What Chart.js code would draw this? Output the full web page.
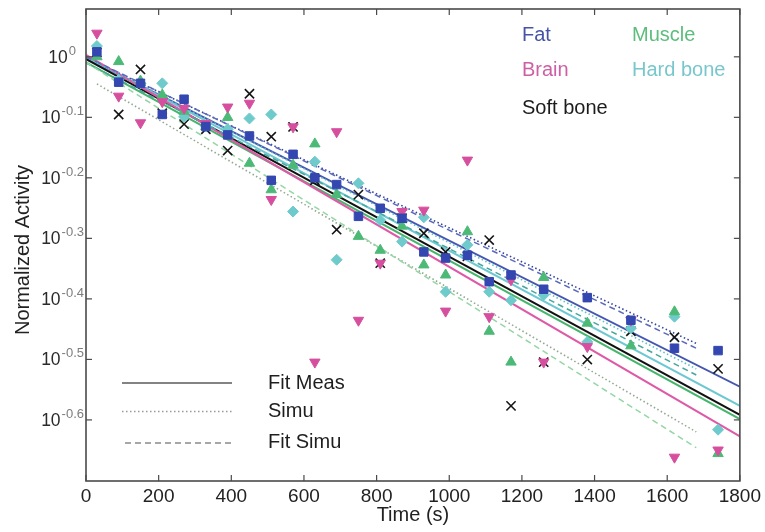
<!DOCTYPE html>
<html>
<head>
<meta charset="utf-8">
<script src="https://cdn.jsdelivr.net/npm/chart.js@4.4.1/dist/chart.umd.min.js"></script>
<style>
  html, body { margin: 0; padding: 0; background: #ffffff; }
  #wrap { width: 765px; height: 532px; }
</style>
</head>
<body>
<div id="wrap"><canvas id="c" width="765" height="532"></canvas></div>
<script>
// ---------------- data ----------------
const times = [30, 90, 150, 210, 270, 330, 390, 450, 510, 570, 630, 690, 750, 810, 870, 930, 990, 1050, 1110, 1170, 1260, 1380, 1500, 1620, 1740];

const fatMeas      = [1.019, 0.908, 0.904, 0.803, 0.851, 0.767, 0.743, 0.740, 0.625, 0.690, 0.631, 0.615, 0.545, 0.562, 0.541, 0.476, 0.465, 0.470, 0.425, 0.436, 0.413, 0.400, 0.367, 0.330, 0.327];
const brainMeas    = [1.094, 0.861, 0.778, 0.843, 0.822, 0.776, 0.826, 0.838, 0.581, 0.766, 0.313, 0.752, 0.367, 0.456, 0.555, 0.558, 0.380, 0.675, 0.372, 0.428, 0.313, 0.332, 0.367, 0.218, 0.224];
const muscleMeas   = [1.000, 0.982, 0.912, 0.865, 0.813, 0.767, 0.794, 0.667, 0.603, 0.662, 0.718, 0.592, 0.505, 0.479, 0.525, 0.453, 0.436, 0.514, 0.352, 0.313, 0.432, 0.363, 0.333, 0.379, 0.221];
const hardBoneMeas = [1.042, 0.916, 0.904, 0.904, 0.796, 0.767, 0.759, 0.791, 0.803, 0.555, 0.671, 0.462, 0.618, 0.537, 0.495, 0.543, 0.409, 0.489, 0.409, 0.396, 0.404, 0.338, 0.356, 0.372, 0.242];
const softBoneMeas = [1.016, 0.803, 0.953, 0.807, 0.774, 0.759, 0.700, 0.869, 0.738, 0.766, 0.625, 0.518, 0.592, 0.456, 0.541, 0.511, 0.476, 0.468, 0.498, 0.265, 0.313, 0.316, 0.352, 0.344, 0.305];

// Fit of measurements (solid), endpoints at t = 0 and t = 1800
const fitTimes       = [0, 1800];
const fatFit         = [0.995, 0.285];
const hardBoneFit    = [1.000, 0.265];
const softBoneFit    = [0.991, 0.256];
const muscleFit      = [0.979, 0.252];
const brainFit       = [1.007, 0.236];

// Simulation (dotted) and fit of simulation (dashed)
const simuTimes      = [30, 1680];
const fitSimuTimes   = [0, 1680];
const fatSimu        = [0.977, 0.336];
const fatFitSimu     = [1.000, 0.330];
const hardBoneSimu   = [0.977, 0.305];
const hardBoneFitSimu= [0.977, 0.298];
const muscleSimu     = [0.902, 0.240];
const muscleFitSimu  = [0.979, 0.226];

// axes
const xTicks = [0, 200, 400, 600, 800, 1000, 1200, 1400, 1600, 1800];
const xTickLabels = ['0', '200', '400', '600', '800', '1000', '1200', '1400', '1600', '1800'];
const yTickValues = [1, 0.7943, 0.6310, 0.5012, 0.3981, 0.3162, 0.2512];
const yTickExponents = ['0', '-0.1', '-0.2', '-0.3', '-0.4', '-0.5', '-0.6'];
const yMin = 0.1991, yMax = 1.1995;

const legendTissues = ['Fat', 'Muscle', 'Brain', 'Hard bone', 'Soft bone'];
const legendLines = ['Fit Meas', 'Simu', 'Fit Simu'];

// ---------------- styles ----------------
const FONT = "'Liberation Sans', Arial, Helvetica, sans-serif";
const C = { fat: '#3447b0', brain: '#d64f9f', muscle: '#4cba76', hard: '#6fcbcb', soft: '#151515' };

function pts(xs, ys) {
  const out = [];
  xs.forEach((x, i) => { if (ys[i] != null) out.push({ x: x, y: ys[i] }); });
  return out;
}
function lineDs(xs, ys, color, width, dash) {
  return { data: pts(xs, ys), showLine: true, pointRadius: 0, borderColor: color, borderWidth: width,
           borderDash: dash, backgroundColor: color, order: 2, fill: false, tension: 0 };
}
function markerDs(ys, color, style, radius, rotation, border) {
  return { data: pts(times, ys), showLine: false, pointStyle: style, pointRadius: radius, pointRotation: rotation,
           backgroundColor: color, borderColor: color, borderWidth: border, order: 1 };
}

const DOT = [1.5, 2.5], DASH = [6, 4];
const datasets = [
  lineDs(fitSimuTimes, muscleFitSimu, '#94d6a4', 1.5, DASH),
  lineDs(simuTimes, muscleSimu, '#93a893', 1.6, DOT),
  lineDs(fitSimuTimes, hardBoneFitSimu, '#46a89c', 1.5, DASH),
  lineDs(simuTimes, hardBoneSimu, '#5cbfc6', 1.6, DOT),
  lineDs(fitSimuTimes, fatFitSimu, '#5b69bb', 1.5, DASH),
  lineDs(simuTimes, fatSimu, '#34449f', 1.6, DOT),
  lineDs(fitTimes, brainFit, '#de5aa6', 2, []),
  lineDs(fitTimes, muscleFit, '#45b56c', 2, []),
  lineDs(fitTimes, softBoneFit, '#111111', 2, []),
  lineDs(fitTimes, hardBoneFit, '#6cc8d2', 2, []),
  lineDs(fitTimes, fatFit, '#4555b0', 2, []),
  markerDs(fatMeas, C.fat, 'rect', 6, 0, 1),
  markerDs(brainMeas, C.brain, 'triangle', 6, 180, 1),
  markerDs(muscleMeas, C.muscle, 'triangle', 6, 0, 1),
  markerDs(hardBoneMeas, C.hard, 'rectRot', 5.5, 0, 1),
  markerDs(softBoneMeas, C.soft, 'crossRot', 6.5, 0, 1.6)
];

// ---------------- overlay plugin: frame, inner ticks, y labels, titles, legends ----------------
const overlay = {
  id: 'overlay',
  afterDraw(chart) {
    const ctx = chart.ctx, a = chart.chartArea, xs = chart.scales.x, ys = chart.scales.y;
    ctx.save();
    function seg(x1, y1, x2, y2) { ctx.beginPath(); ctx.moveTo(x1, y1); ctx.lineTo(x2, y2); ctx.stroke(); }
    // frame
    ctx.strokeStyle = '#4a4a4a'; ctx.lineWidth = 1.6; ctx.setLineDash([]);
    ctx.strokeRect(a.left, a.top, a.right - a.left, a.bottom - a.top);
    ctx.lineWidth = 1.2;
    xs.ticks.forEach(t => { const p = xs.getPixelForValue(t.value); seg(p, a.bottom, p, a.bottom - 6); seg(p, a.top, p, a.top + 6); });
    ys.ticks.forEach(t => { const p = ys.getPixelForValue(t.value); seg(a.left, p, a.left + 6, p); seg(a.right, p, a.right - 6, p); });

    // y tick labels 10^e
    yTickValues.forEach((v, i) => {
      const p = ys.getPixelForValue(v);
      const ex = yTickExponents[i];
      const R = ex === '0' ? 76 : 84;
      ctx.font = '13px ' + FONT;
      const ew = ctx.measureText(ex).width;
      ctx.fillStyle = '#7d7d7d'; ctx.textAlign = 'right'; ctx.textBaseline = 'alphabetic';
      ctx.fillText(ex, R, p - 2);
      ctx.font = '17.5px ' + FONT; ctx.fillStyle = '#2a2a2a'; ctx.textBaseline = 'middle';
      ctx.fillText('10', R - ew - 1, p + 1);
    });

    // axis titles
    ctx.fillStyle = '#222'; ctx.font = '20px ' + FONT; ctx.textAlign = 'center'; ctx.textBaseline = 'middle';
    ctx.fillText('Time (s)', (a.left + a.right) / 2, 515);
    ctx.save(); ctx.translate(23, 250); ctx.rotate(-Math.PI / 2); ctx.fillText('Normalized Activity', 0, 0); ctx.restore();

    // tissue legend (coloured text)
    ctx.textAlign = 'left'; ctx.textBaseline = 'middle'; ctx.font = '20px ' + FONT;
    const tl = [[legendTissues[0], '#4753a6', 522, 35], [legendTissues[1], '#5cbd7d', 632, 35],
                [legendTissues[2], '#cd5fa4', 522, 70], [legendTissues[3], '#79c7cd', 632, 70],
                [legendTissues[4], '#1c1c1c', 522, 108]];
    tl.forEach(r => { ctx.fillStyle = r[1]; ctx.fillText(r[0], r[2], r[3]); });

    // line-style legend
    ctx.lineWidth = 1.5;
    ctx.strokeStyle = '#5a5a5a'; ctx.setLineDash([]); seg(122, 383, 232, 383);
    ctx.strokeStyle = '#9a9a9a'; ctx.setLineDash([1.5, 2.5]); seg(122, 411.5, 232, 411.5);
    ctx.strokeStyle = '#8a8a8a'; ctx.setLineDash([6, 4]); seg(125, 443, 232, 443);
    ctx.setLineDash([]);
    ctx.fillStyle = '#1e1e1e';
    ctx.fillText(legendLines[0], 268, 383);
    ctx.fillText(legendLines[1], 268, 411);
    ctx.fillText(legendLines[2], 268, 442);
    ctx.restore();
  }
};

new Chart(document.getElementById('c'), {
  type: 'scatter',
  data: { datasets: datasets },
  options: {
    responsive: false, animation: false, devicePixelRatio: 1,
    layout: { padding: { top: 9, right: 25, left: 0, bottom: 0 } },
    plugins: { legend: { display: false }, tooltip: { enabled: false } },
    scales: {
      x: {
        type: 'linear', min: 0, max: 1800,
        afterBuildTicks: s => { s.ticks = xTicks.map(v => ({ value: v })); },
        afterFit: s => { s.height = 51; },
        grid: { display: false, drawTicks: false }, border: { display: false },
        ticks: { color: '#222', font: { family: FONT, size: 19 }, padding: 4, maxRotation: 0, autoSkip: false,
                 callback: (v, i) => xTickLabels[i] }
      },
      y: {
        type: 'logarithmic', min: yMin, max: yMax,
        afterBuildTicks: s => { s.ticks = yTickValues.map(v => ({ value: v })); },
        afterFit: s => { s.width = 86; },
        grid: { display: false, drawTicks: false }, border: { display: false },
        ticks: { display: false }
      }
    }
  },
  plugins: [overlay]
});
</script>
</body>
</html>
